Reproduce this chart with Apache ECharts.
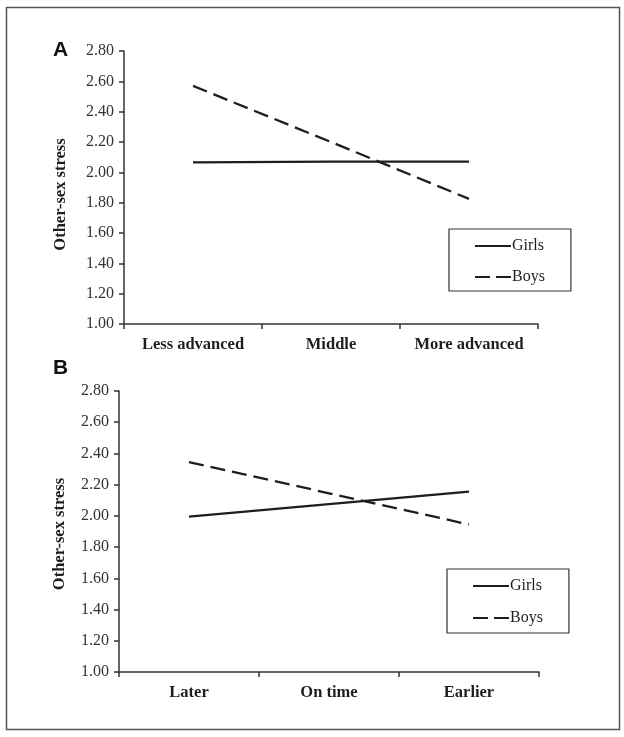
<!DOCTYPE html>
<html>
<head>
<meta charset="utf-8">
<script src="https://cdn.jsdelivr.net/npm/echarts@6/dist/echarts.min.js"></script>
<style>
html,body{margin:0;padding:0;background:#fff;}
#chart{width:624px;height:737px;}
</style>
</head>
<body>
<div id="chart"></div>
<script>
// Data
var categoriesA = ['Less advanced', 'Middle', 'More advanced'];
var girlsA = [2.065, 2.07, 2.07];
var boysA = [2.57, 2.2, 1.825];

var categoriesB = ['Later', 'On time', 'Earlier'];
var girlsB = [1.995, 2.075, 2.155];
var boysB = [2.345, 2.145, 1.945];

var yTicks = { min: 1.0, max: 2.8, interval: 0.2 };
var yName = 'Other-sex stress';
var seriesNames = ['Girls', 'Boys'];
var panelLabels = ['A', 'B'];

var serif = '"Liberation Serif", "DejaVu Serif", serif';
var sans = '"Liberation Sans", Arial, sans-serif';
var ink = '#1e1e1e';

var solidIcon = 'path://M0,0H36V2.2H0Z';
var dashIcon = 'path://M0,0H15V2.2H0Z M21,0H36V2.2H21Z';

function yAxis(gi, gap, shift) {
  return {
    type: 'value', gridIndex: gi,
    min: yTicks.min, max: yTicks.max, interval: yTicks.interval,
    name: yName, nameLocation: 'middle', nameGap: gap,
    nameTextStyle: { fontFamily: serif, fontWeight: 'bold', fontSize: 16.5, color: ink, padding: [0, shift, 0, 0] },
    axisLine: { show: true, lineStyle: { color: '#333', width: 1.5 } },
    axisTick: { show: true, length: 5, lineStyle: { color: '#333', width: 1.5 } },
    axisLabel: { fontFamily: serif, fontSize: 16, color: '#333', margin: 10,
      formatter: function (v) { return v.toFixed(2); } },
    splitLine: { show: false }
  };
}
function xAxis(gi, cats) {
  return {
    type: 'category', gridIndex: gi, data: cats, boundaryGap: true,
    axisLine: { show: true, lineStyle: { color: '#333', width: 1.5 } },
    axisTick: { show: true, interval: 0, length: 5, lineStyle: { color: '#333', width: 1.5 } },
    axisLabel: { interval: 0, hideOverlap: false, fontFamily: serif, fontWeight: 'bold', fontSize: 16.5, color: ink, margin: 12 },
    splitLine: { show: false }
  };
}
function lineSeries(name, gi, data, dashed) {
  return {
    name: name, type: 'line', xAxisIndex: gi, yAxisIndex: gi, data: data,
    symbol: 'none', smooth: false, animation: false,
    lineStyle: { color: ink, width: 2.3, type: dashed ? [15, 7] : 'solid' },
    itemStyle: { color: ink }
  };
}
function legend(left, top, gap, padTop, padBottom) {
  return {
    data: [{ name: seriesNames[0], icon: solidIcon }, { name: seriesNames[1], icon: dashIcon }],
    orient: 'vertical', left: left, top: top,
    itemWidth: 36, itemHeight: 16, itemGap: gap, symbolKeepAspect: true,
    padding: [padTop, 26, padBottom, 26],
    borderColor: '#333', borderWidth: 1.2,
    textStyle: { fontFamily: serif, fontSize: 16, color: ink, padding: [0, 0, 0, -4] },
    selectedMode: false
  };
}

var chart = echarts.init(document.getElementById('chart'), null, { renderer: 'canvas' });
chart.setOption({
  backgroundColor: '#fff',
  animation: false,
  title: [
    { text: panelLabels[0], left: 53, top: 40, padding: 0, textStyle: { fontFamily: sans, fontWeight: 'bold', fontSize: 21, color: '#111' } },
    { text: panelLabels[1], left: 53, top: 358, padding: 0, textStyle: { fontFamily: sans, fontWeight: 'bold', fontSize: 21, color: '#111' } }
  ],
  legend: [legend(449, 229, 15, 9, 6), legend(447, 569, 16, 9, 7)],
  grid: [
    { left: 124, width: 414, top: 51, height: 273 },
    { left: 119, width: 420, top: 391, height: 281 }
  ],
  xAxis: [xAxis(0, categoriesA), xAxis(1, categoriesB)],
  yAxis: [yAxis(0, 55, 14), yAxis(1, 51, 5)],
  series: [
    lineSeries(seriesNames[0], 0, girlsA, false),
    lineSeries(seriesNames[1], 0, boysA, true),
    lineSeries(seriesNames[0], 1, girlsB, false),
    lineSeries(seriesNames[1], 1, boysB, true)
  ],
  graphic: [
    { type: 'rect', shape: { x: 6.5, y: 7.5, width: 613, height: 722 }, style: { fill: null, stroke: '#555', lineWidth: 1.5 }, silent: true }
  ]
});
</script>
</body>
</html>
